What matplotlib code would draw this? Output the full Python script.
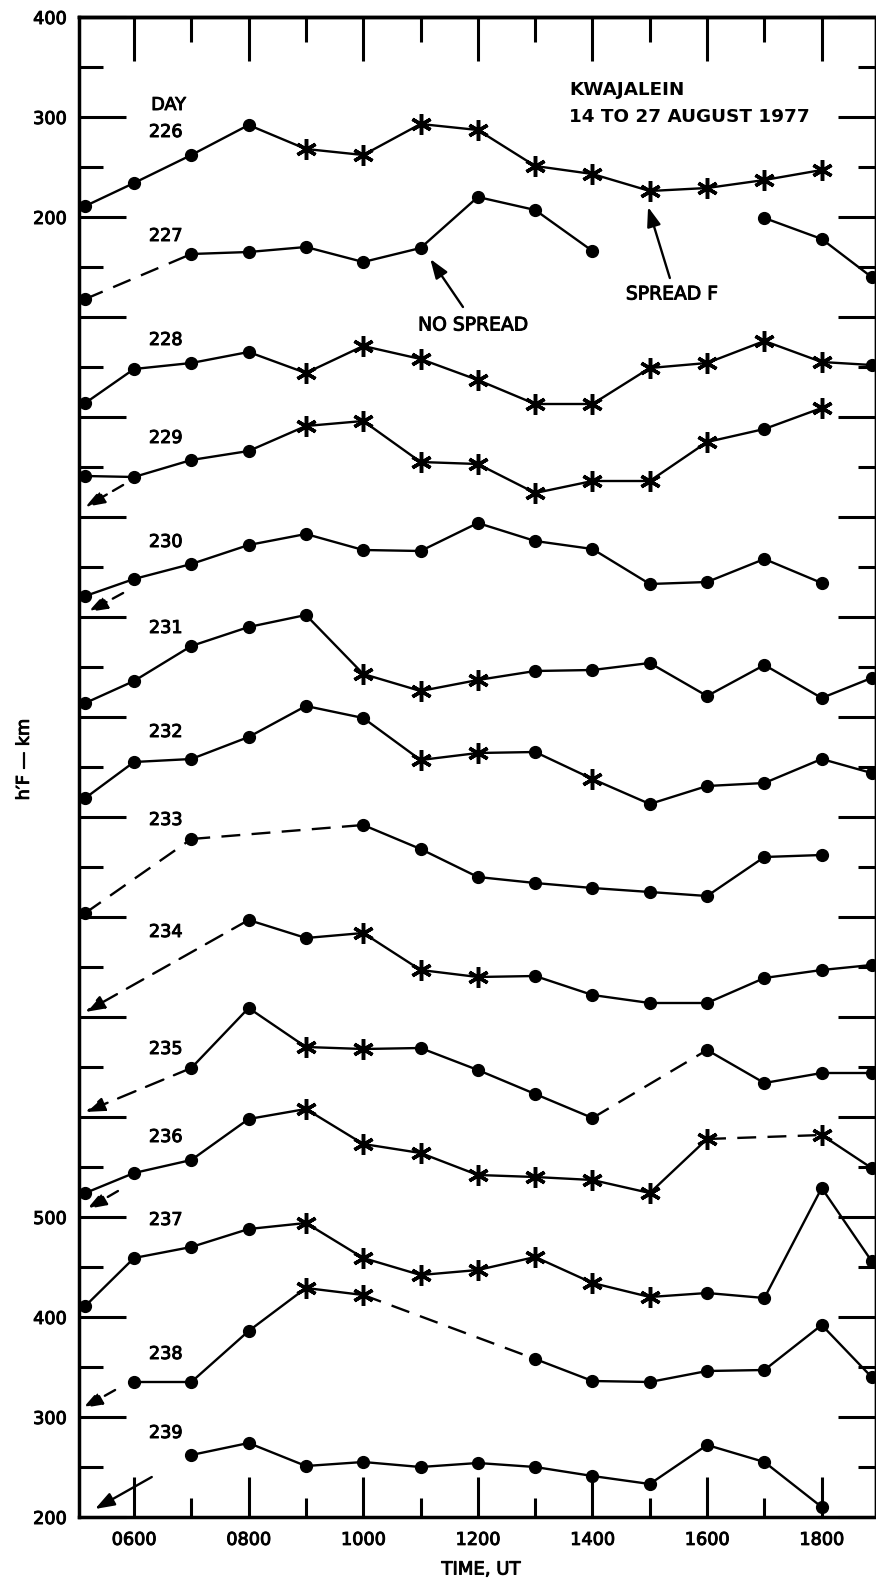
import matplotlib.pyplot as plt
import matplotlib.patheffects as pe
import numpy as np
from matplotlib.ticker import FixedLocator, FuncFormatter, NullFormatter

N = None

# hour of each reading (first and last columns sit near the frame edges)
hours = [5.15, 6, 7, 8, 9, 10, 11, 12, 13, 14, 15, 16, 17, 18, 18.87]
days = [226, 227, 228, 229, 230, 231, 232, 233, 234, 235, 236, 237, 238, 239]

# h'F in km for each day
h226 = [211, 234, 262, 292, 268, 262, 293, 287, 251, 243, 226, 229, 237, 247, N]
h227 = [218, N, 263, 265, 270, 255, 269, 320, 307, 266, N, N, 299, 278, 240]
h228 = [214, 248, 254, 265, 244, 271, 258, 237, 213, 213, 249, 254, 276, 255, 252]
h229 = [241, 240, 257, 266, 291, 296, 255, 253, 224, 236, 236, 275, 288, 309, N]
h230 = [221, 238, 253, 272, 283, 267, 266, 294, 276, 268, 233, 235, 258, 234, N]
h231 = [214, 236, 271, 290, 302, 243, 226, 237, 246, 247, 254, 221, 252, 219, 239]
h232 = [219, 255, 258, 280, 311, 299, 257, 264, 265, 238, 213, 231, 234, 258, 244]
h233 = [204, N, 278, N, N, 292, 268, 240, 234, 229, 225, 221, 260, 262, N]
h234 = [N, N, N, 297, 279, 284, 247, 240, 241, 222, 214, 214, 239, 247, 252]
h235 = [N, N, 249, 309, 270, 268, 269, 247, 223, 199, N, 267, 234, 244, 244]
h236 = [224, 244, 257, 298, 308, 273, 264, 242, 240, 237, 224, 278, N, 282, 249]
h237 = [211, 259, 270, 288, 294, 259, 242, 247, 260, 234, 220, 224, 219, 329, 256]
h238 = [N, 235, 235, 286, 329, 322, N, N, 258, 236, 235, 246, 247, 292, 240]
h239 = [N, N, 262, 274, 251, 255, 250, 254, 250, 241, 233, 272, 255, 210, N]

# 'o' = no spread, '*' = spread F
m226 = "oooo**********-"
m227 = "ooooooooooooooo"
m228 = "oooo**********o"
m229 = "oooo********o*-"
m230 = "ooooooooooooooo"
m231 = "ooooo***ooooooo"
m232 = "oooooo**o*ooooo"
m233 = "ooooooooooooooo"
m234 = "ooooo***ooooooo"
m235 = "oooo**ooooooooo"
m236 = "oooo**********o"
m237 = "oooo*******oooo"
m238 = "oooo**ooooooooo"
m239 = "ooooooooooooooo"

# links drawn dashed, given by the index they start from
dash226 = []
dash227 = [0]
dash228 = []
dash229 = []
dash230 = []
dash231 = []
dash232 = []
dash233 = [0, 2]
dash234 = []
dash235 = [9]
dash236 = [11]
dash237 = []
dash238 = [5]
dash239 = []

ytick_text = {200: '200', 300: '300', 400: '400', 500: '500',
              1500: '200', 1600: '300', 1700: '400'}

heights = [h226, h227, h228, h229, h230, h231, h232, h233, h234, h235, h236, h237, h238, h239]
spread = [m226, m227, m228, m229, m230, m231, m232, m233, m234, m235, m236, m237, m238, m239]
dashed = [dash226, dash227, dash228, dash229, dash230, dash231, dash232, dash233,
          dash234, dash235, dash236, dash237, dash238, dash239]

plt.rcParams['font.family'] = ['DejaVu Sans']
LW = 1.7
# scanned look: thicken the lettering a little
heavy = [pe.withStroke(linewidth=0.7, foreground='k')]

fig = plt.figure(figsize=(8.76, 15.81), dpi=100)
ax = fig.add_axes([79/876, 64/1581, 796/876, 1500/1581])
ax.set_xlim(5.04, 18.93)
ax.set_ylim(200, 1700)


def arrow(x0, y0, x1, y1, dashed, pat=(5, 3)):
    ls = (0, pat) if dashed else '-'
    ax.annotate('', xy=(x1, y1), xytext=(x0, y0),
                arrowprops=dict(arrowstyle='-|>,head_length=0.9,head_width=0.32',
                                mutation_scale=13, color='k', lw=LW, ls=ls,
                                shrinkA=0, shrinkB=0))


for k, day in enumerate(days):
    off = (239 - day) * 100
    vals = heights[k]
    idx = [i for i, v in enumerate(vals) if v is not None]
    for a, b in zip(idx[:-1], idx[1:]):
        xs = [hours[a], hours[b]]
        ys = [vals[a] + off, vals[b] + off]
        if a in dashed[k]:
            ax.plot(xs, ys, color='k', lw=LW, dashes=(8, 4.8))
        elif b == a + 1:
            ax.plot(xs, ys, color='k', lw=LW, solid_capstyle='round')
    dots = [i for i in idx if spread[k][i] == 'o']
    stars = [i for i in idx if spread[k][i] == '*']
    ax.plot([hours[i] for i in dots], [vals[i] + off for i in dots],
            'o', color='k', ms=8.5, ls='none', zorder=3)
    ax.plot([hours[i] for i in stars], [vals[i] + off for i in stars],
            marker=(6, 2, 0), color='k', ms=15, mew=2.5, ls='none', zorder=3)

# day numbers
lab_y = [285, 281, 277, 279, 275, 289, 285, 297, 285, 268, 280, 297, 263, 284]
for k, day in enumerate(days):
    ax.text(6.26, (239 - day) * 100 + lab_y[k], str(day), fontsize=12.7,
            ha='left', va='center', path_effects=heavy)
ax.text(6.3, 1612, 'DAY', fontsize=12.7, ha='left', va='center', path_effects=heavy)

# lead-in arrows for days starting below the scale
arrow(hours[3], h234[3] + 500, 5.15, 205 + 500, True, (8, 4.8))
arrow(hours[2], h235[2] + 400, 5.15, 205 + 400, True, (8, 4.8))
arrow(5.81, 232 + 1000, 5.15, 210 + 1000, True)
arrow(5.81, 224 + 900, 5.20, 205 + 900, True)
arrow(5.72, 226 + 300, 5.18, 208 + 300, True)
arrow(5.67, 227 + 100, 5.11, 209 + 100, True)
arrow(6.31, 240, 5.32, 208, False)

# notes
ax.text(13.59, 1627, 'KWAJALEIN', fontsize=13.2, fontweight='bold', ha='left', va='center')
ax.text(13.59, 1600, '14 TO 27 AUGUST 1977', fontsize=13.2, fontweight='bold',
        ha='left', va='center')
ax.text(11.92, 1392, 'NO SPREAD', fontsize=13.5, ha='center', va='center', path_effects=heavy)
arrow(11.74, 1410, 11.17, 1458, False)
ax.text(15.39, 1423, 'SPREAD F', fontsize=13.5, ha='center', va='center', path_effects=heavy)
arrow(15.35, 1439, 14.97, 1510, False)

# axes, ticks
ax.yaxis.set_major_locator(FixedLocator(np.arange(200, 1701, 100)))
ax.yaxis.set_minor_locator(FixedLocator(np.arange(250, 1700, 100)))
ax.yaxis.set_major_formatter(FuncFormatter(lambda v, p: ytick_text.get(int(round(v)), '')))
ax.xaxis.set_major_locator(FixedLocator(range(6, 19, 2)))
ax.xaxis.set_minor_locator(FixedLocator(range(7, 18, 2)))
ax.xaxis.set_major_formatter(FuncFormatter(lambda v, p: '%02d00' % int(round(v))))
ax.tick_params(axis='y', which='major', direction='in', length=34, width=2.2, pad=9,
               labelsize=12.7, right=False)
ax.tick_params(axis='y', which='minor', direction='in', length=17, width=2.2, right=False)
ax.tick_params(axis='x', which='major', direction='in', length=29, width=2.2, pad=10,
               labelsize=12.7, top=False)
ax.tick_params(axis='x', which='minor', direction='in', length=14, width=2.2, top=False)
for t in ax.get_xticklabels() + ax.get_yticklabels():
    t.set_path_effects(heavy)

top = ax.secondary_xaxis('top')
top.xaxis.set_major_locator(FixedLocator(range(6, 19, 2)))
top.xaxis.set_minor_locator(FixedLocator(range(7, 18, 2)))
top.xaxis.set_major_formatter(NullFormatter())
top.tick_params(which='major', direction='in', length=32, width=2.2)
top.tick_params(which='minor', direction='in', length=18, width=2.2)

right = ax.secondary_yaxis('right')
right.yaxis.set_major_locator(FixedLocator(np.arange(200, 1701, 100)))
right.yaxis.set_minor_locator(FixedLocator(np.arange(250, 1700, 100)))
right.yaxis.set_major_formatter(NullFormatter())
right.tick_params(which='major', direction='in', length=27, width=2.2)
right.tick_params(which='minor', direction='in', length=12, width=2.2)

for s in ['left', 'bottom', 'top']:
    ax.spines[s].set_linewidth(2.5)
ax.spines['right'].set_linewidth(1.0)
top.spines['top'].set_linewidth(2.5)
right.spines['right'].set_linewidth(1.0)

ax.set_ylabel('h\u2032F \u2014 km', fontsize=12.7, path_effects=heavy)
ax.yaxis.set_label_coords(-0.058, 0.505)
ax.set_xlabel('TIME, UT', fontsize=13, path_effects=heavy)
ax.xaxis.set_label_coords(0.505, -0.029)

fig.savefig('out.png', dpi=100)
